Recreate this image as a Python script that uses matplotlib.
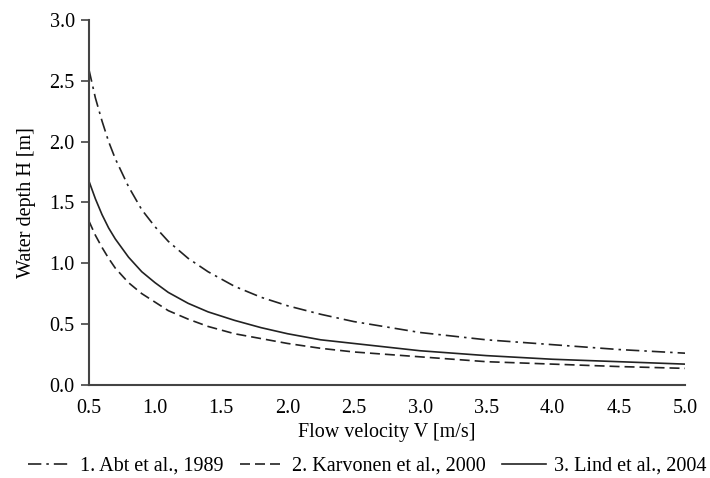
import matplotlib
matplotlib.use("Agg")
import matplotlib.pyplot as plt

# flow velocity [m/s] and water depth [m]
velocity = [0.5, 0.55, 0.6, 0.65, 0.7, 0.8, 0.9, 1.0, 1.1, 1.25, 1.4,
            1.6, 1.8, 2.0, 2.25, 2.5, 3.0, 3.5, 4.0, 4.5, 5.0]
abt = [2.60, 2.36, 2.17, 2.00, 1.86, 1.63, 1.44, 1.30, 1.18, 1.04, 0.93,
       0.81, 0.72, 0.65, 0.58, 0.52, 0.43, 0.37, 0.33, 0.29, 0.26]
karvonen = [1.35, 1.23, 1.13, 1.04, 0.96, 0.84, 0.75, 0.68, 0.61, 0.54, 0.48,
            0.42, 0.38, 0.34, 0.30, 0.27, 0.23, 0.19, 0.17, 0.15, 0.135]
lind = [1.68, 1.53, 1.40, 1.29, 1.20, 1.05, 0.93, 0.84, 0.76, 0.67, 0.60,
        0.53, 0.47, 0.42, 0.37, 0.34, 0.28, 0.24, 0.21, 0.19, 0.17]
labels = ["1. Abt et al., 1989", "2. Karvonen et al., 2000", "3. Lind et al., 2004"]

plt.rcParams['font.family'] = ['Liberation Serif', 'DejaVu Serif']
plt.rcParams['font.size'] = 14.5

fig = plt.figure(figsize=(7.1, 4.78), dpi=100)
ax = fig.add_axes([0.125, 0.195, 0.84, 0.763])

col = '#222222'
ax.plot(velocity, abt, color=col, lw=1.2, dashes=(8, 3, 1.5, 3), label=labels[0])
ax.plot(velocity, karvonen, color=col, lw=1.2, dashes=(6, 3), label=labels[1])
ax.plot(velocity, lind, color=col, lw=1.2, label=labels[2])

ax.set_xlim(0.5, 5.0)
ax.set_ylim(0, 3.0)
ax.set_xticks([0.5, 1.0, 1.5, 2.0, 2.5, 3.0, 3.5, 4.0, 4.5, 5.0])
ax.set_yticks([0.0, 0.5, 1.0, 1.5, 2.0, 2.5, 3.0])
ax.xaxis.set_major_formatter(matplotlib.ticker.FormatStrFormatter('%.1f'))
ax.yaxis.set_major_formatter(matplotlib.ticker.FormatStrFormatter('%.1f'))
ax.tick_params(axis='x', length=0, pad=10)
ax.tick_params(axis='y', length=6, width=1.2, color='#444444', pad=4)
ax.spines['top'].set_visible(False)
ax.spines['right'].set_visible(False)
for s in ['left', 'bottom']:
    ax.spines[s].set_linewidth(1.5)
    ax.spines[s].set_color('#444444')

ax.set_xlabel("Flow velocity V [m/s]", labelpad=4)
ax.set_ylabel("Water depth H [m]", labelpad=10)

fig.legend(loc='center', bbox_to_anchor=(0.517, 0.025), ncol=3, frameon=False,
           handlelength=2.2, columnspacing=0.8, handletextpad=0.4)

plt.savefig('out.png', dpi=100)
